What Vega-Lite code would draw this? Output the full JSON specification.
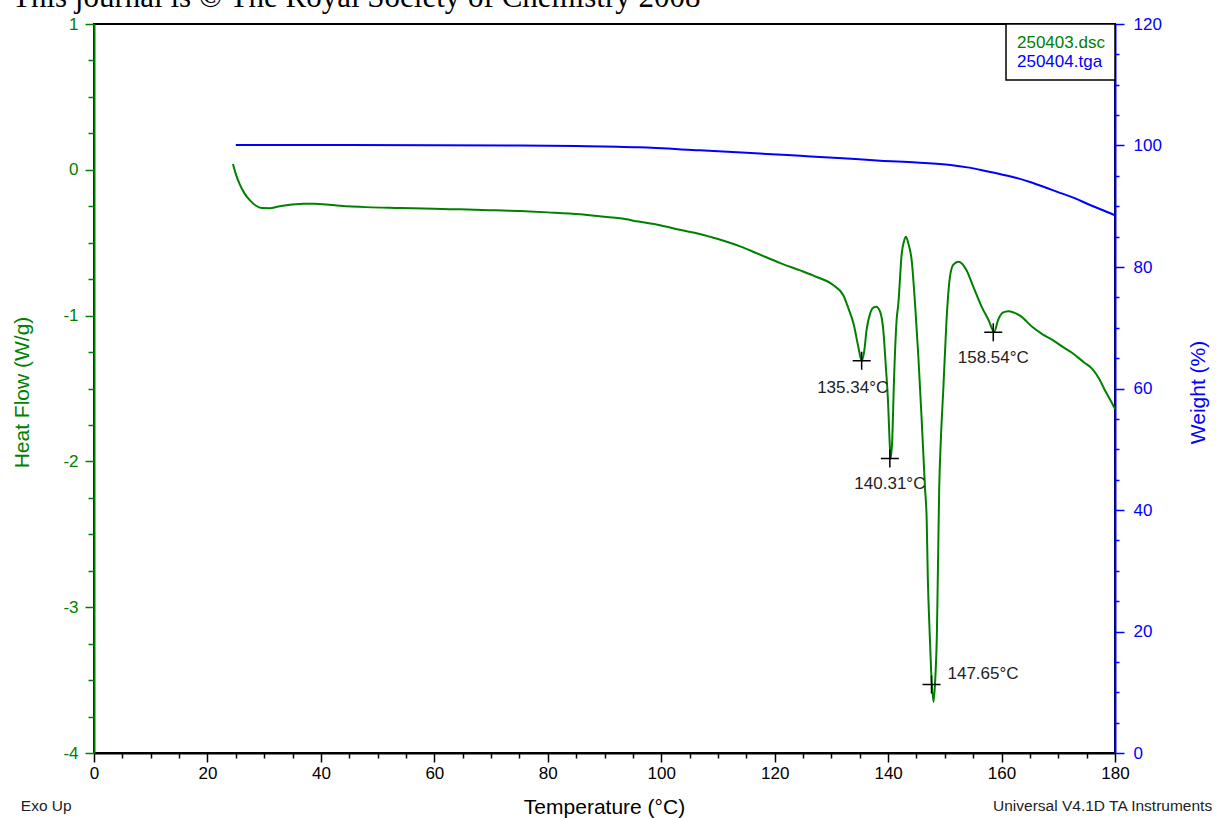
{
  "$schema": "https://vega.github.io/schema/vega-lite/v6.json",
  "width": 1021,
  "height": 729,
  "autosize": {"type": "none"},
  "padding": {"left": 94, "top": 24, "right": 110, "bottom": 65},
  "background": "white",
  "config": {
    "view": {"stroke": "black", "strokeWidth": 2},
    "font": "Liberation Sans",
    "axis": {"grid": false, "titleFontWeight": "normal", "labelFont": "Liberation Sans", "titleFont": "Liberation Sans"}
  },
  "title": {
    "text": "This journal is © The Royal Society of Chemistry 2008",
    "font": "Liberation Serif",
    "fontSize": 31,
    "fontWeight": "normal",
    "color": "black",
    "anchor": "start",
    "frame": "group",
    "dx": -82,
    "offset": 0,
    "dy": 23,
    "baseline": "alphabetic"
  },
  "datasets": {
    "dsc": [
      {"t": 24.5, "hf": 0.04}, {"t": 25.0, "hf": -0.03}, {"t": 25.7, "hf": -0.10}, {"t": 26.5, "hf": -0.16},
      {"t": 27.5, "hf": -0.21}, {"t": 28.5, "hf": -0.245}, {"t": 29.6, "hf": -0.262}, {"t": 31.0, "hf": -0.263},
      {"t": 32.5, "hf": -0.252}, {"t": 34.6, "hf": -0.24}, {"t": 37.0, "hf": -0.232}, {"t": 39.0, "hf": -0.232},
      {"t": 41.0, "hf": -0.238}, {"t": 43.4, "hf": -0.246}, {"t": 48.0, "hf": -0.256}, {"t": 53.9, "hf": -0.262},
      {"t": 60.0, "hf": -0.268}, {"t": 64.5, "hf": -0.271}, {"t": 70.0, "hf": -0.277}, {"t": 75.1, "hf": -0.283},
      {"t": 80.0, "hf": -0.292}, {"t": 85.7, "hf": -0.305}, {"t": 90.0, "hf": -0.322}, {"t": 92.7, "hf": -0.333},
      {"t": 96.0, "hf": -0.355}, {"t": 99.8, "hf": -0.38}, {"t": 103.0, "hf": -0.41}, {"t": 106.8, "hf": -0.44},
      {"t": 110.0, "hf": -0.475}, {"t": 113.9, "hf": -0.525}, {"t": 117.0, "hf": -0.575}, {"t": 121.0, "hf": -0.64},
      {"t": 124.5, "hf": -0.69}, {"t": 127.4, "hf": -0.735}, {"t": 130.3, "hf": -0.79}, {"t": 132.1, "hf": -0.86},
      {"t": 133.0, "hf": -0.95}, {"t": 133.9, "hf": -1.055}, {"t": 134.75, "hf": -1.215}, {"t": 135.35, "hf": -1.31},
      {"t": 135.8, "hf": -1.24}, {"t": 136.2, "hf": -1.10}, {"t": 136.8, "hf": -0.99}, {"t": 137.4, "hf": -0.945},
      {"t": 137.9, "hf": -0.94}, {"t": 138.6, "hf": -0.975}, {"t": 139.15, "hf": -1.10}, {"t": 139.6, "hf": -1.35},
      {"t": 140.0, "hf": -1.60}, {"t": 140.25, "hf": -1.85}, {"t": 140.45, "hf": -1.98}, {"t": 140.75, "hf": -1.83},
      {"t": 141.0, "hf": -1.49}, {"t": 141.5, "hf": -1.03}, {"t": 141.8, "hf": -0.92}, {"t": 142.4, "hf": -0.575},
      {"t": 142.8, "hf": -0.49}, {"t": 143.15, "hf": -0.46}, {"t": 143.6, "hf": -0.51}, {"t": 144.15, "hf": -0.62},
      {"t": 144.75, "hf": -0.92}, {"t": 145.3, "hf": -1.26}, {"t": 145.9, "hf": -1.70}, {"t": 146.5, "hf": -2.18},
      {"t": 146.8, "hf": -2.40}, {"t": 147.0, "hf": -2.80}, {"t": 147.3, "hf": -3.15}, {"t": 147.6, "hf": -3.45},
      {"t": 148.0, "hf": -3.65}, {"t": 148.3, "hf": -3.50}, {"t": 148.6, "hf": -3.18}, {"t": 148.8, "hf": -2.70},
      {"t": 149.0, "hf": -2.20}, {"t": 149.3, "hf": -1.85}, {"t": 149.75, "hf": -1.49}, {"t": 150.3, "hf": -1.03},
      {"t": 150.9, "hf": -0.735}, {"t": 151.5, "hf": -0.65}, {"t": 152.4, "hf": -0.63}, {"t": 153.85, "hf": -0.69},
      {"t": 155.0, "hf": -0.80}, {"t": 156.5, "hf": -0.94}, {"t": 157.7, "hf": -1.03}, {"t": 158.7, "hf": -1.11},
      {"t": 159.4, "hf": -1.03}, {"t": 160.2, "hf": -0.98}, {"t": 161.2, "hf": -0.97}, {"t": 162.2, "hf": -0.98},
      {"t": 163.25, "hf": -1.0}, {"t": 165.5, "hf": -1.08}, {"t": 167.3, "hf": -1.13}, {"t": 169.1, "hf": -1.17},
      {"t": 171.0, "hf": -1.22}, {"t": 172.6, "hf": -1.26}, {"t": 174.5, "hf": -1.32}, {"t": 176.1, "hf": -1.37},
      {"t": 177.3, "hf": -1.44}, {"t": 178.2, "hf": -1.51}, {"t": 179.2, "hf": -1.58}, {"t": 180.0, "hf": -1.64}
    ],
    "tga": [
      {"t": 25, "w": 100.1}, {"t": 40, "w": 100.1}, {"t": 60, "w": 100.05}, {"t": 75, "w": 100.0},
      {"t": 85, "w": 99.9}, {"t": 96, "w": 99.7}, {"t": 106.8, "w": 99.2}, {"t": 115, "w": 98.8},
      {"t": 124.5, "w": 98.3}, {"t": 132, "w": 97.9}, {"t": 138.6, "w": 97.5}, {"t": 145, "w": 97.2},
      {"t": 151, "w": 96.8}, {"t": 154, "w": 96.4}, {"t": 156.2, "w": 96.0}, {"t": 159.7, "w": 95.3},
      {"t": 162.5, "w": 94.7}, {"t": 165, "w": 94.0}, {"t": 168, "w": 93.0}, {"t": 170.3, "w": 92.2},
      {"t": 173, "w": 91.3}, {"t": 175.6, "w": 90.2}, {"t": 178, "w": 89.3}, {"t": 180, "w": 88.5}
    ],
    "peaks": [
      {"t": 135.34, "hf": -1.31, "label": "135.34°C", "pos": "below-left"},
      {"t": 140.31, "hf": -1.98, "label": "140.31°C", "pos": "below"},
      {"t": 147.65, "hf": -3.53, "label": "147.65°C", "pos": "right"},
      {"t": 158.54, "hf": -1.115, "label": "158.54°C", "pos": "below"}
    ],
    "notes": [
      {"t": -12.9, "hf": -4.366, "txt": "Exo Up"},
      {"t": 158.5, "hf": -4.366, "txt": "Universal V4.1D TA Instruments"}
    ]
  },
  "encoding": {
    "x": {
      "field": "t",
      "type": "quantitative",
      "scale": {"domain": [0, 180], "nice": false, "zero": false},
      "axis": {
        "title": "Temperature (°C)",
        "values": [0,5,10,15,20,25,30,35,40,45,50,55,60,65,70,75,80,85,90,95,100,105,110,115,120,125,130,135,140,145,150,155,160,165,170,175,180],
        "labelExpr": "datum.value % 20 === 0 ? '' + datum.value : ''",
        "tickSize": {"condition": {"test": "datum.value % 20 === 0", "value": 9}, "value": 5},
        "tickColor": "black",
        "tickWidth": 1.5,
        "domainColor": "black",
        "domainWidth": 2,
        "labelColor": "black",
        "labelFontSize": 17,
        "labelPadding": 3,
        "labelFlush": false,
        "labelOverlap": false,
        "titleFontSize": 21,
        "titleColor": "black",
        "titleX": 510,
        "titleY": 54,
        "titleBaseline": "middle",
        "titleAlign": "center"
      }
    }
  },
  "layer": [
    {
      "encoding": {
        "y": {
          "field": "hf",
          "type": "quantitative",
          "scale": {"domain": [-4, 1], "nice": false, "zero": false},
          "axis": {
            "orient": "left",
            "title": "Heat Flow (W/g)",
            "values": [-4,-3.75,-3.5,-3.25,-3,-2.75,-2.5,-2.25,-2,-1.75,-1.5,-1.25,-1,-0.75,-0.5,-0.25,0,0.25,0.5,0.75,1],
            "labelExpr": "datum.value % 1 === 0 ? '' + datum.value : ''",
            "tickSize": {"condition": {"test": "datum.value % 1 === 0", "value": 9}, "value": 6},
            "tickColor": "#008000",
            "tickWidth": 1.5,
            "domainColor": "#008000",
            "domainWidth": 2,
            "labelColor": "#008000",
            "labelFontSize": 17,
            "labelPadding": 7,
            "labelOverlap": false,
            "labelFlush": false,
            "titleFontSize": 21,
            "titleColor": "#008000",
            "titleAngle": -90,
            "titleX": -72,
            "titleY": 368,
            "titleBaseline": "middle",
            "titleAlign": "center"
          }
        }
      },
      "layer": [
        {
          "data": {"name": "dsc"},
          "mark": {"type": "line", "strokeWidth": 2, "interpolate": "monotone"},
          "encoding": {
            "color": {
              "datum": "250403.dsc",
              "type": "nominal",
              "scale": {"domain": ["250403.dsc", "250404.tga"], "range": ["#008000", "#0000ff"]},
              "legend": {
                "orient": "top-right",
                "offset": 0,
                "title": null,
                "strokeColor": "black",
                "fillColor": "white",
                "padding": 10,
                "symbolSize": 0,
                "symbolOpacity": 0,
                "symbolStrokeWidth": 0,
                "labelFontSize": 17,
                "labelFont": "Liberation Sans",
                "labelOffset": -16,
                "rowPadding": 1,
                "labelLimit": 300,
                "encode": {
                  "legend": {"update": {"strokeWidth": {"value": 1.5}}},
                  "labels": {"update": {"fill": [{"test": "datum.value === '250403.dsc'", "value": "#008000"}, {"value": "#0000ff"}]}}
                }
              }
            }
          }
        },
        {
          "data": {"name": "peaks"},
          "mark": {"type": "point", "shape": "M-1,0L1,0M0,-1L0,1", "size": 324, "filled": false, "stroke": "black", "strokeWidth": 1.5, "opacity": 1}
        },
        {
          "data": {"name": "peaks"},
          "transform": [{"filter": "datum.pos === 'below'"}],
          "mark": {"type": "text", "align": "center", "baseline": "middle", "dy": 26, "fontSize": 17, "color": "#222222"},
          "encoding": {"text": {"field": "label"}}
        },
        {
          "data": {"name": "peaks"},
          "transform": [{"filter": "datum.pos === 'below-left'"}],
          "mark": {"type": "text", "align": "center", "baseline": "middle", "dx": -9, "dy": 27, "fontSize": 17, "color": "#222222"},
          "encoding": {"text": {"field": "label"}}
        },
        {
          "data": {"name": "peaks"},
          "transform": [{"filter": "datum.pos === 'right'"}],
          "mark": {"type": "text", "align": "left", "baseline": "middle", "dx": 16, "dy": -10, "fontSize": 17, "color": "#222222"},
          "encoding": {"text": {"field": "label"}}
        },
        {
          "data": {"name": "notes"},
          "mark": {"type": "text", "align": "left", "baseline": "middle", "fontSize": 15.5, "color": "#222222"},
          "encoding": {"text": {"field": "txt"}}
        }
      ]
    },
    {
      "data": {"name": "tga"},
      "mark": {"type": "line", "strokeWidth": 2, "interpolate": "monotone"},
      "encoding": {
        "y": {
          "field": "w",
          "type": "quantitative",
          "scale": {"domain": [0, 120], "nice": false, "zero": false},
          "axis": {
            "orient": "right",
            "title": "Weight (%)",
            "values": [0,5,10,15,20,25,30,35,40,45,50,55,60,65,70,75,80,85,90,95,100,105,110,115,120],
            "labelExpr": "datum.value % 20 === 0 ? '' + datum.value : ''",
            "tickSize": {"condition": {"test": "datum.value % 20 === 0", "value": 9}, "value": 4},
            "tickColor": "#0000ff",
            "tickWidth": 1.5,
            "domainColor": "#0000ff",
            "domainWidth": 2,
            "labelColor": "#0000ff",
            "labelFontSize": 17,
            "labelPadding": 9,
            "labelOverlap": false,
            "labelFlush": false,
            "titleFontSize": 21,
            "titleColor": "#0000ff",
            "titleAngle": -90,
            "titleX": 83,
            "titleY": 368,
            "titleBaseline": "middle",
            "titleAlign": "center"
          }
        },
        "color": {"datum": "250404.tga", "type": "nominal"}
      }
    }
  ],
  "resolve": {"scale": {"y": "independent"}}
}
